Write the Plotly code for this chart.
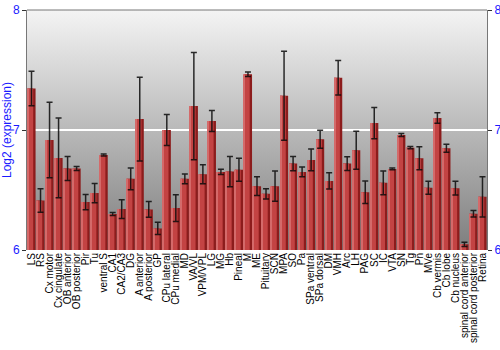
import base64
import plotly.graph_objects as go

regions = ["LS", "RS", "Cx motor", "Cx cingulate", "OB anterior", "OB posterior", "Pir", "Tu",
           "ventral S", "CA1", "CA2/CA3", "DG", "A anterior", "A posterior", "GP", "CPu lateral",
           "CPu medial", "MD", "VA/VL", "VPM/VPL", "LG", "MG", "Hb", "Pineal", "M", "ME",
           "Pituitary", "SCN", "MPA", "SO", "Pa", "SPa ventral", "SPa dorsal", "DM", "VMH", "Arc",
           "LH", "PAG", "SC", "IC", "VTA", "SN", "Tg", "Pn", "MVe", "Cb vermis", "Cb lobe",
           "Cb nucleus", "spinal cord anterior", "spinal cord posterior", "Retina"]

expression = [7.346, 6.413, 6.917, 6.767, 6.679, 6.679, 6.399, 6.474,
              6.792, 6.300, 6.341, 6.593, 7.091, 6.338, 6.180, 7.000,
              6.349, 6.593, 7.199, 6.632, 7.075, 6.651, 6.654, 6.668, 7.465, 6.532,
              6.468, 6.532, 7.285, 6.720, 6.651, 6.751, 6.922, 6.576, 7.435, 6.720,
              6.831, 6.482, 7.058, 6.560, 6.676, 6.958, 6.853, 6.765, 6.518, 7.100, 6.848,
              6.515, 6.047, 6.302, 6.443]

error = [0.144, 0.098, 0.314, 0.332, 0.100, 0.017, 0.064, 0.080,
         0.008, 0.012, 0.078, 0.091, 0.349, 0.066, 0.051, 0.130,
         0.112, 0.040, 0.447, 0.079, 0.087, 0.022, 0.126, 0.096, 0.019, 0.078,
         0.043, 0.126, 0.371, 0.060, 0.040, 0.091, 0.075, 0.068, 0.144, 0.058,
         0.158, 0.094, 0.130, 0.099, 0.007, 0.013, 0.010, 0.096, 0.054, 0.044, 0.033,
         0.057, 0.017, 0.028, 0.168]

y_range = [6, 8]
y_ticks = [6, 7, 8]

blue = "#1a1aff"
font_family = "Liberation Sans, Arial, sans-serif"

svg = ('<svg xmlns="http://www.w3.org/2000/svg" width="100" height="100" preserveAspectRatio="none">'
       '<defs><linearGradient id="g" x1="0" y1="0" x2="0" y2="1">'
       '<stop offset="0" stop-color="#f4f4f4"/><stop offset="1" stop-color="#7e7e7e"/>'
       '</linearGradient></defs><rect width="100" height="100" fill="url(#g)"/></svg>')
bg_src = "data:image/svg+xml;base64," + base64.b64encode(svg.encode()).decode()

fig = go.Figure()
fig.add_trace(go.Bar(x=regions, y=expression, base=0, width=0.9,
                     marker=dict(color="#8c1c1c", line=dict(width=0)),
                     hoverinfo="skip", showlegend=False))
fig.add_trace(go.Bar(x=regions, y=expression, width=0.64, offset=-0.45,
                     marker=dict(color="#c34343", line=dict(width=0)),
                     showlegend=False))
fig.add_trace(go.Bar(x=regions, y=expression, width=0.12, offset=-0.45,
                     marker=dict(color="#d46a6a", line=dict(width=0)),
                     hoverinfo="skip", showlegend=False))
fig.add_trace(go.Scatter(x=regions, y=expression, mode="markers",
                         marker=dict(size=0.1, opacity=0),
                         error_y=dict(type="data", array=error, visible=True,
                                      color="rgba(10,10,10,0.85)", thickness=1.5, width=3),
                         showlegend=False))
fig.add_trace(go.Scatter(x=[regions[0]], y=[None], yaxis="y2", showlegend=False,
                         hoverinfo="skip"))

fig.update_layout(
    width=500, height=350,
    margin=dict(l=27, r=13, t=10, b=100),
    paper_bgcolor="white",
    plot_bgcolor="rgba(0,0,0,0)",
    barmode="overlay",
    font=dict(family=font_family, color="black"),
    images=[dict(source=bg_src, xref="paper", yref="paper", x=0, y=1, sizex=1, sizey=1,
                 sizing="stretch", layer="below")],
    xaxis=dict(type="category", tickangle=-90, tickfont=dict(size=10, color="black"),
               tickmode="array", tickvals=regions, ticktext=regions, automargin=False,
               showgrid=False, ticks="", showline=False, zeroline=False,
               range=[-0.5, len(regions) - 0.5]),
    yaxis=dict(range=y_range, tickvals=y_ticks, ticks="outside", ticklen=4, tickcolor="#333",
               showline=True, linecolor="#777", linewidth=1, showgrid=True, automargin=False,
               gridcolor="white", gridwidth=1.5, zeroline=False,
               tickfont=dict(size=12, color=blue),
               title=dict(text="Log2 (expression)", font=dict(size=12, color=blue), standoff=6)),
    yaxis2=dict(range=y_range, tickvals=y_ticks, overlaying="y", side="right", ticks="outside",
                ticklen=4, tickcolor="#333", showline=True, linecolor="#777", linewidth=1,
                automargin=False,
                showgrid=False, zeroline=False, tickfont=dict(size=12, color=blue)),
    shapes=[dict(type="line", xref="paper", yref="paper", x0=0, x1=1, y0=1, y1=1,
                 line=dict(color="#777", width=1))],
)

fig.write_html("out.html")
